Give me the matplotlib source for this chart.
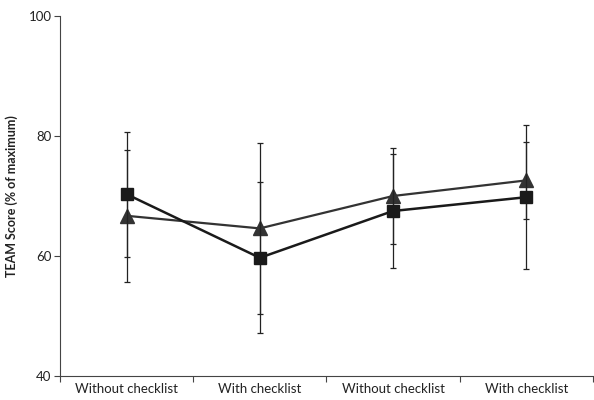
import matplotlib.pyplot as plt
from matplotlib.ticker import FixedLocator, NullFormatter

# Daten
categories = ['Without checklist', 'With checklist', 'Without checklist', 'With checklist']
square_mean = [70.3, 59.7, 67.5, 69.8]
square_err = [10.4, 12.6, 9.5, 12.0]
triangle_mean = [66.7, 64.6, 70.0, 72.6]
triangle_err = [11.0, 14.3, 8.0, 6.4]

plt.rcParams['font.family'] = ['Lato', 'DejaVu Sans']

fig = plt.figure(figsize=(5.94, 4.0), dpi=100)
ax = fig.add_axes([0.101, 0.06, 0.897, 0.90])

x = range(1, len(categories) + 1)

ax.errorbar(x, triangle_mean, yerr=triangle_err, color='#333333', lw=1.6,
            marker='^', ms=9.5, mec='#333333', mfc='#333333',
            ecolor='#222222', elinewidth=0.9, capsize=2.5, capthick=0.9, zorder=3)
ax.errorbar(x, square_mean, yerr=square_err, color='#1a1a1a', lw=1.8,
            marker='s', ms=8.5, mec='#1a1a1a', mfc='#1a1a1a',
            ecolor='#222222', elinewidth=0.9, capsize=2.5, capthick=0.9, zorder=4)

ax.set_xlim(0.5, len(categories) + 0.5)
ax.set_ylim(40, 100)
ax.set_yticks([40, 60, 80, 100])
ax.tick_params(axis='y', labelsize=9.5, length=4, width=0.8, color='#444444',
               labelcolor='#222222', pad=2)

# Striche zwischen den Kategorien, Beschriftungen in der Mitte
ax.xaxis.set_major_locator(FixedLocator([0.5, 1.5, 2.5, 3.5, 4.5]))
ax.xaxis.set_major_formatter(NullFormatter())
ax.set_xticks(list(x), minor=True)
ax.set_xticklabels(categories, minor=True)
ax.tick_params(axis='x', which='major', length=4, width=0.8, color='#444444')
ax.tick_params(axis='x', which='minor', length=0, labelsize=9.5,
               labelcolor='#222222', pad=5)

ax.set_ylabel('TEAM Score (% of maximum)', fontsize=9, fontweight='bold',
              color='#222222', labelpad=8)

for side in ['top', 'right']:
    ax.spines[side].set_visible(False)
for side in ['left', 'bottom']:
    ax.spines[side].set_color('#444444')
    ax.spines[side].set_linewidth(0.8)

fig.savefig('out.png', dpi=100)
